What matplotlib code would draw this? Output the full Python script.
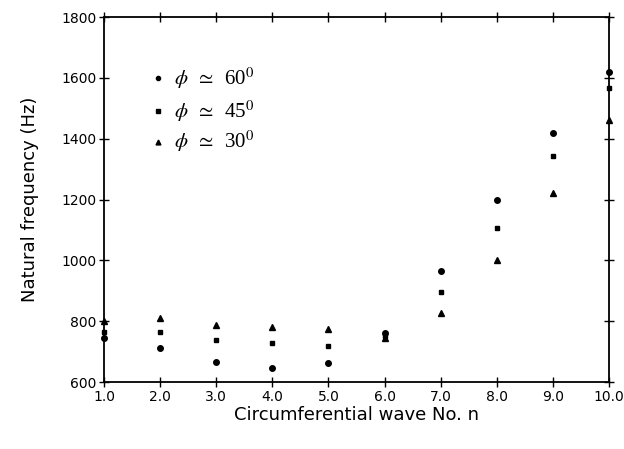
import matplotlib
matplotlib.use("Agg")
import matplotlib.pyplot as plt

plt.rcParams["mathtext.fontset"] = "stix"

''' Dados lidos da figura '''
n = [1, 2, 3, 4, 5, 6, 7, 8, 9, 10]
f_60 = [745, 711, 665, 646, 662, 760, 966, 1198, 1418, 1619]
f_45 = [765, 763, 738, 728, 718, 750, 897, 1106, 1343, 1566]
f_30 = [800, 810, 788, 782, 775, 745, 828, 1000, 1222, 1461]

legend_labels = ["60", "45", "30"]
x_ticks = [1, 2, 3, 4, 5, 6, 7, 8, 9, 10]
y_ticks = [600, 800, 1000, 1200, 1400, 1600, 1800]

fig = plt.figure(figsize=(6.24, 4.49), dpi=100)
ax = fig.add_axes([0.1667, 0.1492, 0.8093, 0.8128])

ax.plot(n, f_60, linestyle="none", marker="o", ms=4, color="black", clip_on=False)
ax.plot(n, f_45, linestyle="none", marker="s", ms=3.5, color="black", clip_on=False)
ax.plot(n, f_30, linestyle="none", marker="^", ms=4.5, color="black", clip_on=False)

ax.set_xlim(1, 10)
ax.set_ylim(600, 1800)
ax.set_xticks(x_ticks)
ax.set_xticklabels([f"{v:.1f}" for v in x_ticks])
ax.set_yticks(y_ticks)
ax.tick_params(direction="inout", length=7, width=1, top=True, right=True,
               labelsize=10, pad=2)
for s in ax.spines.values():
    s.set_linewidth(1.3)

ax.set_xlabel("Circumferential wave No. n", fontsize=13, labelpad=2)
ax.set_ylabel("Natural frequency (Hz)", fontsize=13, labelpad=16)

''' Legenda manual '''
markers = ["o", "s", "^"]
sizes = [3, 3, 3.5]
ys = [1600, 1490, 1390]
for lab, m, ms, y in zip(legend_labels, markers, sizes, ys):
    ax.plot([1.97], [y], linestyle="none", marker=m, ms=ms, color="black")
    ax.text(2.25, y, r"$\phi\;\;\simeq\;\;$" + lab + r"$^{\mathrm{0}}$", fontsize=15,
            family="Liberation Serif", va="center")

fig.savefig("out.png", dpi=100)
